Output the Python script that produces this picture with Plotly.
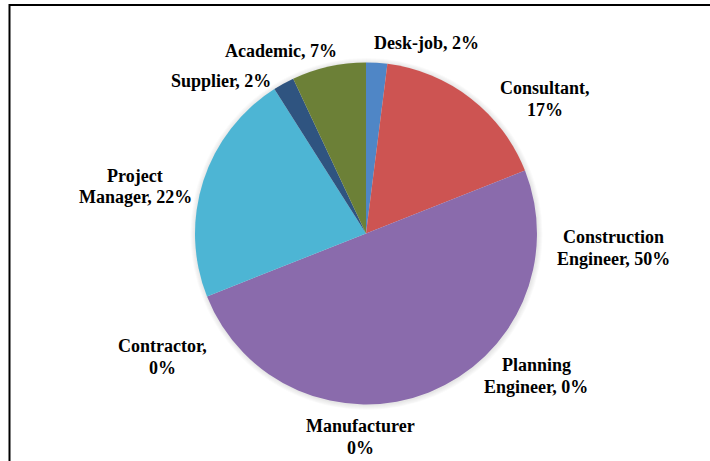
import plotly.graph_objects as go

# Respondent roles, clockwise from 12 o'clock
categories = ["Desk-job", "Consultant", "Construction Engineer", "Planning Engineer",
              "Manufacturer", "Contractor", "Project Manager", "Supplier", "Academic"]
shares = [2, 17, 50, 0, 0, 0, 22, 2, 7]
colors = ["#4F86C6", "#CD5452", "#8A6BAC", "#9BBB59", "#F79646", "#7F7F7F",
          "#4DB5D4", "#2F5480", "#6C8037"]

# Label text: one entry per line of each label
label_lines = [
    ["Desk-job, {v}%"],
    ["Consultant,", "{v}%"],
    ["Construction", "Engineer, {v}%"],
    ["Planning", "Engineer, {v}%"],
    ["Manufacturer", "{v}%"],
    ["Contractor,", "{v}%"],
    ["Project", "Manager, {v}%"],
    ["Supplier, {v}%"],
    ["Academic, {v}%"],
]
# Label anchor (centre of the first line) in pixels
label_pos = [(426, 43), (545, 88), (613, 237), (536, 365), (360, 426),
             (162, 346), (135, 176), (221, 81), (281, 51)]

W, H = 710, 461
CX, CY, R = 366, 233.5, 171
LINE_GAP = 21.5

fig = go.Figure(go.Pie(
    labels=categories,
    values=shares,
    sort=False,
    direction="clockwise",
    rotation=0,
    marker=dict(colors=colors, line=dict(width=0)),
    textinfo="none",
    hoverinfo="label+percent",
    showlegend=False,
    domain=dict(x=[(CX - R) / W, (CX + R) / W],
                y=[1 - (CY + R) / H, 1 - (CY - R) / H]),
))

annotations = []
for lines, (px, py), v in zip(label_lines, label_pos, shares):
    for k, line in enumerate(lines):
        annotations.append(dict(
            text="<b>" + line.format(v=v) + "</b>",
            x=px / W, y=1 - (py + k * LINE_GAP) / H,
            xref="paper", yref="paper",
            xanchor="center", yanchor="middle",
            showarrow=False,
            font=dict(family="Liberation Serif", size=18, color="black"),
        ))

shapes = []
# soft glow around the pie
for d in range(1, 6):
    r = R + d
    shapes.append(dict(
        type="circle", xref="paper", yref="paper", layer="below",
        x0=(CX - r + 0.5) / W, x1=(CX + r + 0.5) / W,
        y0=1 - (CY + r + 0.5) / H, y1=1 - (CY - r + 0.5) / H,
        fillcolor="rgba(0,0,0,0.018)", line=dict(width=0),
    ))
# frame: top and left edges
shapes.append(dict(type="line", xref="paper", yref="paper",
                   x0=9.5 / W, x1=1, y0=1 - 5 / H, y1=1 - 5 / H,
                   line=dict(color="black", width=2)))
shapes.append(dict(type="line", xref="paper", yref="paper",
                   x0=9.5 / W, x1=9.5 / W, y0=0, y1=1 - 4 / H,
                   line=dict(color="black", width=2)))

fig.update_layout(
    width=W, height=H,
    margin=dict(l=0, r=0, t=0, b=0),
    paper_bgcolor="white",
    plot_bgcolor="white",
    annotations=annotations,
    shapes=shapes,
)

fig.write_html("out.html")
